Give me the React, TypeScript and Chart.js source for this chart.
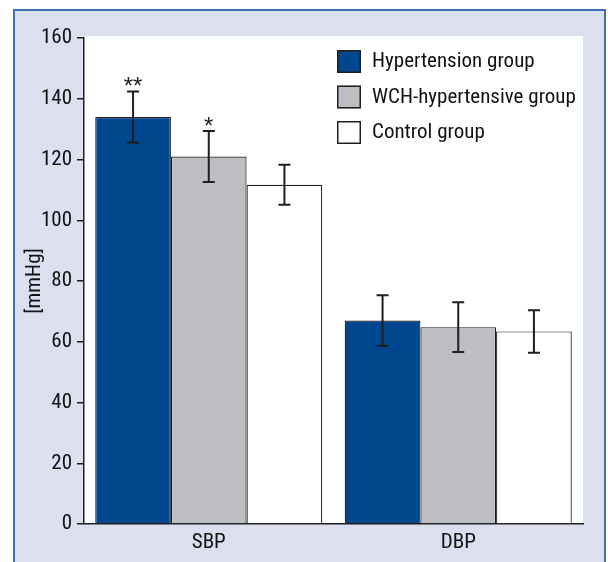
import React, { useEffect, useRef } from 'react';
import { Chart, registerables } from 'chart.js';

Chart.register(...registerables);

const categories = ['SBP', 'DBP'];
const seriesNames = ['Hypertension group', 'WCH-hypertensive group', 'Control group'];
const hypertensionMeans = [134, 67];
const wchMeans = [121, 64.8];
const controlMeans = [111.7, 63.4];
const hypertensionSD = [8.4, 8.3];
const wchSD = [8.4, 8.2];
const controlSD = [6.6, 7.0];
const hypertensionMarks = ['**', ''];
const wchMarks = ['*', ''];
const controlMarks = ['', ''];
const yMin = 0;
const yMax = 160;
const yStep = 20;

const seriesColors = ['#00478f', '#bdbec2', '#ffffff'];
const INK = '#1e1e1e';
const FONT = "'Roboto Condensed', 'DejaVu Sans Condensed', sans-serif";
const FONT_SIZE = 21;

const means = [hypertensionMeans, wchMeans, controlMeans];
const sds = [hypertensionSD, wchSD, controlSD];
const marks = [hypertensionMarks, wchMarks, controlMarks];

const framePlugin = {
  id: 'frame',
  beforeDraw(chart: any) {
    const { ctx, chartArea, width, height } = chart;
    ctx.save();
    ctx.fillStyle = '#ffffff';
    ctx.fillRect(0, 0, width, height);
    ctx.fillStyle = '#dcdfee';
    ctx.fillRect(13, 9, 593, height - 9);
    ctx.strokeStyle = '#3d6fb0';
    ctx.lineWidth = 2;
    ctx.beginPath();
    ctx.moveTo(14, height);
    ctx.lineTo(14, 10);
    ctx.lineTo(605, 10);
    ctx.lineTo(605, height);
    ctx.stroke();
    ctx.fillStyle = '#ffffff';
    ctx.fillRect(chartArea.left, chartArea.top - 2, chartArea.right - chartArea.left, chartArea.bottom - chartArea.top + 2);
    ctx.restore();
  },
};

const errorPlugin = {
  id: 'errorbars',
  afterDatasetsDraw(chart: any) {
    const { ctx } = chart;
    const yScale = chart.scales.y;
    ctx.save();
    chart.data.datasets.forEach((ds: any, di: number) => {
      const meta = chart.getDatasetMeta(di);
      meta.data.forEach((bar: any, i: number) => {
        const m = means[di][i];
        const sd = sds[di][i];
        const x = bar.x;
        const yTop = yScale.getPixelForValue(m + sd);
        const yBot = yScale.getPixelForValue(m - sd);
        ctx.strokeStyle = INK;
        ctx.lineWidth = 2;
        ctx.beginPath();
        ctx.moveTo(x, yTop);
        ctx.lineTo(x, yBot);
        ctx.moveTo(x - 6, yTop);
        ctx.lineTo(x + 6, yTop);
        ctx.moveTo(x - 6, yBot);
        ctx.lineTo(x + 6, yBot);
        ctx.stroke();
        const mk = marks[di][i];
        if (mk) {
          ctx.fillStyle = INK;
          ctx.font = "24px 'Liberation Sans', Arial, sans-serif";
          ctx.textAlign = 'center';
          ctx.textBaseline = 'alphabetic';
          ctx.fillText(mk, x, yTop + 3);
        }
      });
    });
    ctx.restore();
  },
};

const legendPlugin = {
  id: 'customLegend',
  afterDraw(chart: any) {
    const { ctx, chartArea } = chart;
    const bx = chartArea.right - 246;
    const by = chartArea.top + 12;
    ctx.save();
    chart.data.datasets.forEach((ds: any, i: number) => {
      const y = by + i * 35.5;
      ctx.fillStyle = ds.backgroundColor;
      ctx.fillRect(bx, y, 24, 23);
      ctx.strokeStyle = INK;
      ctx.lineWidth = 1.5;
      ctx.strokeRect(bx + 0.75, y + 0.75, 22.5, 21.5);
      ctx.fillStyle = '#111111';
      ctx.font = FONT_SIZE + 'px ' + FONT;
      ctx.textAlign = 'left';
      ctx.textBaseline = 'middle';
      ctx.fillText(ds.label, bx + 35, y + 12);
    });
    ctx.restore();
  },
};

export default function App() {
  const ref = useRef<HTMLCanvasElement>(null);
  useEffect(() => {
    const canvas = ref.current!;
    const chart = new Chart(canvas, {
      type: 'bar',
      data: {
        labels: categories,
        datasets: seriesNames.map((name, i) => ({
          label: name,
          data: means[i],
          backgroundColor: seriesColors[i],
          borderColor: INK,
          borderWidth: 1.2,
          categoryPercentage: 0.91,
          barPercentage: 1.0,
        })),
      },
      options: {
        responsive: false,
        animation: false,
        devicePixelRatio: 1,
        layout: { padding: { left: 0, right: 25, top: 38, bottom: 0 } },
        plugins: {
          legend: { display: false },
          tooltip: { enabled: false },
        },
        scales: {
          x: {
            type: 'category',
            offset: true,
            grid: { display: false, drawTicks: false },
            border: { display: true, color: INK, width: 1.5 },
            ticks: { color: '#111111', font: { family: FONT, size: FONT_SIZE }, padding: 6 },
            afterFit: (s: any) => { s.height = 38; },
          },
          y: {
            min: yMin,
            max: yMax,
            ticks: { stepSize: yStep, color: '#111111', font: { family: FONT, size: FONT_SIZE }, padding: 5 },
            grid: { display: true, drawOnChartArea: false, drawTicks: true, tickLength: 7, color: INK, lineWidth: 1.5 },
            border: { display: true, color: INK, width: 1.5 },
            title: { display: true, text: '[mmHg]', color: '#111111', font: { family: FONT, size: FONT_SIZE }, padding: { top: 22, bottom: 0 } },
            afterFit: (s: any) => { s.width = 84; },
          },
        },
      },
      plugins: [framePlugin, errorPlugin, legendPlugin],
    });
    return () => chart.destroy();
  }, []);
  return (
    <div style={{ position: 'fixed', left: 0, top: 0, width: 608, height: 562 }}>
      <canvas ref={ref} width={608} height={562} style={{ display: 'block' }} />
    </div>
  );
}
